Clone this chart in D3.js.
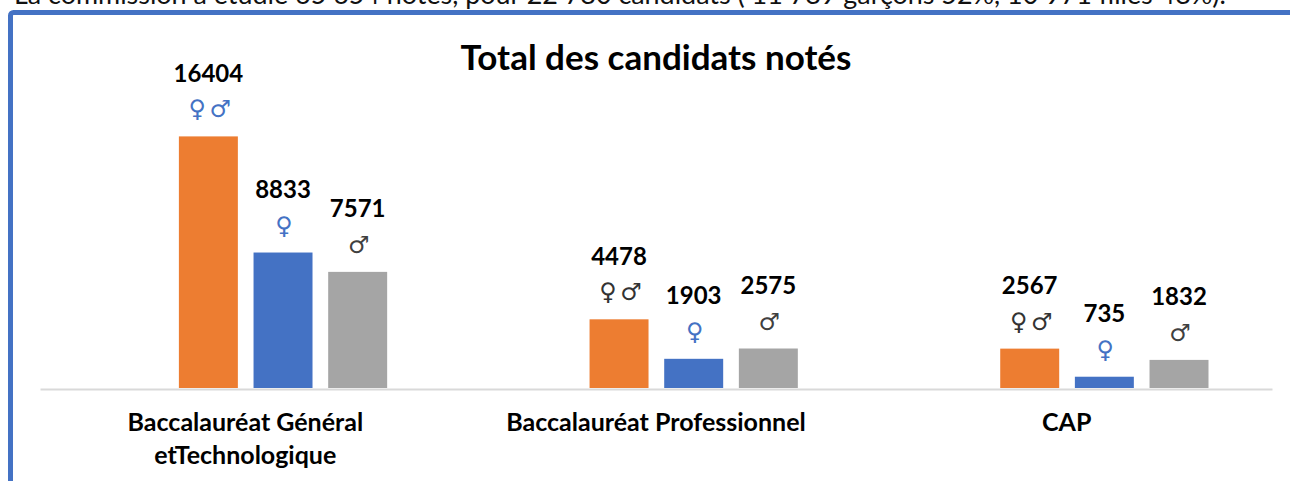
<!DOCTYPE html>
<html lang="fr">
<head>
<meta charset="utf-8">
<script src="https://cdn.jsdelivr.net/npm/d3@7/dist/d3.min.js"></script>
<style>
html,body{margin:0;padding:0;background:#fff;overflow:hidden}
svg{display:block}
text{font-family:Lato,"Noto Sans",sans-serif}
</style>
</head>
<body>
<svg id="chart" width="1290" height="481"></svg>
<script>
const introText = "La commission a étudié 65 654 notes, pour 22 780 candidats  ( 11 789 garçons 52%, 10 971 filles 48%).";
const chartTitle = "Total des candidats notés";
const categories = ["Baccalauréat Général etTechnologique", "Baccalauréat Professionnel", "CAP"];
const categoryLines = [["Baccalauréat Général", "etTechnologique"], ["Baccalauréat Professionnel"], ["CAP"]];
const seriesNames = ["", "Total", "Filles", "Garçons"];
const totalValues = [16404, 4478, 2567];
const fillesValues = [8833, 1903, 735];
const garconsValues = [7571, 2575, 1832];
const seriesColors = {Total: "#ed7d31", Filles: "#4472c4", Garçons: "#a5a5a5"};
const totalSymbolColors = ["#4472c4", "#333333", "#333333"];

const seriesValues = {Total: totalValues, Filles: fillesValues, Garçons: garconsValues};
const svg = d3.select("#chart");
const margin = {left: 40, right: 1272, base: 388};

const x0 = d3.scaleBand().domain(categories).range([margin.left, margin.right]);
const x1 = d3.scaleBand().domain(seriesNames).range([56.4, 355]).paddingInner(0.21).paddingOuter(0.105);
const y = d3.scaleLinear().domain([0, 16404]).range([margin.base, 136.4]);

// cadre
svg.append("rect").attr("x", 10.5).attr("y", 12.5).attr("width", 1400).attr("height", 600)
  .attr("rx", 3).attr("fill", "#fff").attr("stroke", "#4472c4").attr("stroke-width", 5);

// texte coupé en haut
svg.append("text").attr("x", 14).attr("y", 4).attr("font-size", 26.9).attr("fill", "#111")
  .text(introText);

// titre
svg.append("text").attr("x", 656).attr("y", 70).attr("text-anchor", "middle")
  .attr("font-size", 35).attr("font-weight", 700).attr("fill", "#000")
  .text(chartTitle);

// barres
const rows = [];
categories.forEach((c, i) => {
  ["Total", "Filles", "Garçons"].forEach(s => rows.push({c, i, s, v: seriesValues[s][i]}));
});
const g = svg.append("g");
g.selectAll("rect").data(rows).join("rect")
  .attr("x", d => x0(d.c) + x1(d.s))
  .attr("y", d => y(d.v))
  .attr("width", x1.bandwidth())
  .attr("height", d => y(0) - y(d.v))
  .attr("fill", d => seriesColors[d.s]);

// axe
const axis = svg.append("g").attr("transform", `translate(0,${margin.base + 1})`)
  .call(d3.axisBottom(x0).tickSize(0).tickSizeOuter(0));
axis.select(".domain").attr("stroke", "#d9d9d9").attr("stroke-width", 2);
axis.selectAll(".tick text").each(function (d, i) {
  const t = d3.select(this).text(null).attr("y", null).attr("dy", null)
    .attr("font-size", 25).attr("font-weight", 700).attr("fill", "#000")
    .attr("font-family", 'Lato,"Noto Sans",sans-serif');
  categoryLines[i].forEach((line, j) => {
    t.append("tspan").attr("x", 0).attr("y", 42 + j * 33).text(line);
  });
});

// valeurs
svg.append("g").selectAll("text").data(rows).join("text")
  .attr("x", d => x0(d.c) + x1(d.s) + x1.bandwidth() / 2)
  .attr("y", d => y(d.v) - 54.5)
  .attr("text-anchor", "middle").attr("font-size", 24).attr("font-weight", 700).attr("fill", "#000")
  .text(d => d.v);

// symboles
const symbols = svg.append("g").attr("font-size", 24);
rows.forEach(d => {
  const cx = x0(d.c) + x1(d.s) + x1.bandwidth() / 2;
  const sy = y(d.v) - 19;
  const marks = d.s === "Total"
    ? [["♀", -11, totalSymbolColors[d.i]], ["♂", 12, totalSymbolColors[d.i]]]
    : d.s === "Filles" ? [["♀", 1, "#4472c4"]] : [["♂", 1, "#404040"]];
  marks.forEach(m => {
    symbols.append("text").attr("x", cx + m[1]).attr("y", sy)
      .attr("text-anchor", "middle").style("font-family", '"DejaVu Sans"')
      .attr("fill", m[2]).text(m[0]);
  });
});
</script>
</body>
</html>
